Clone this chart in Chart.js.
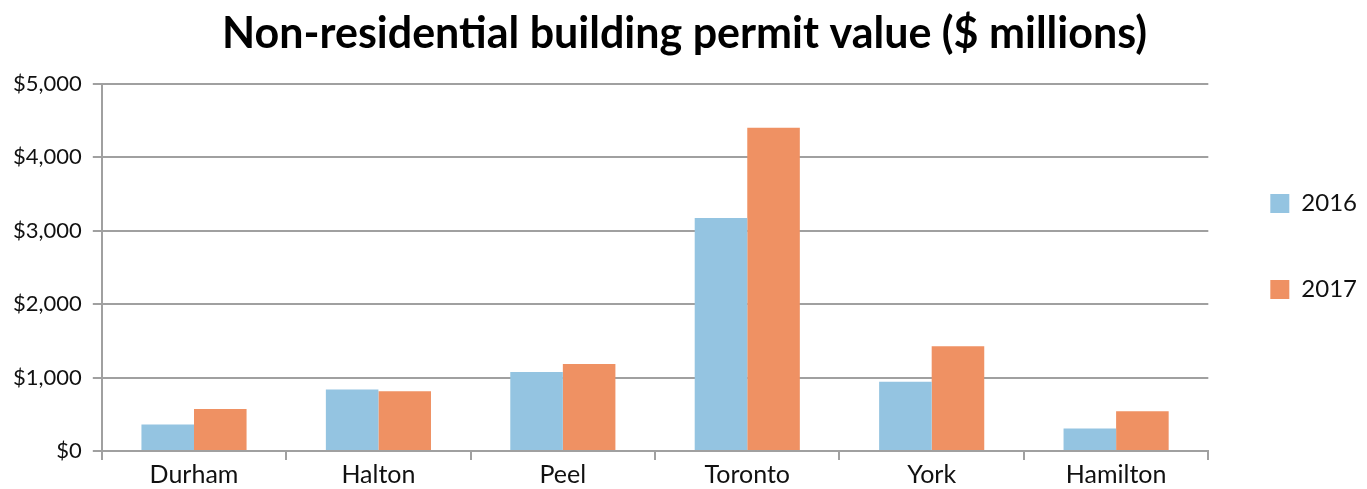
<!DOCTYPE html>
<html>
<head>
<meta charset="utf-8">
<script src="https://cdn.jsdelivr.net/npm/chart.js@4"></script>
<style>
  html, body { margin: 0; padding: 0; background: #fff; }
  #wrap { width: 1367px; height: 489px; }
</style>
</head>
<body>
<div id="wrap"><canvas id="chart"></canvas></div>
<script>
// Data
const regions = ['Durham', 'Halton', 'Peel', 'Toronto', 'York', 'Hamilton'];
const values2016 = [360, 836, 1076, 3172, 941, 306];
const values2017 = [573, 813, 1185, 4400, 1426, 541];
const yTicks = [0, 1000, 2000, 3000, 4000, 5000];

const gridGrey = '#a0a0a0';

const ctx = document.getElementById('chart').getContext('2d');
const chart = new Chart(ctx, {
  type: 'bar',
  data: {
    labels: regions,
    datasets: [
      {
        label: '2016',
        data: values2016,
        backgroundColor: '#94c4e1',
        categoryPercentage: 0.57,
        barPercentage: 1.0
      },
      {
        label: '2017',
        data: values2017,
        backgroundColor: '#ef9163',
        categoryPercentage: 0.57,
        barPercentage: 1.0
      }
    ]
  },
  options: {
    responsive: true,
    maintainAspectRatio: false,
    animation: false,
    layout: { padding: { left: 2, right: 0, top: 4, bottom: 0 } },
    scales: {
      y: {
        min: 0,
        max: 5000,
        afterBuildTicks: function (axis) {
          axis.ticks = yTicks.map(v => ({ value: v }));
        },
        border: { color: gridGrey, width: 2 },
        grid: { color: gridGrey, lineWidth: 2, tickLength: 9 },
        ticks: {
          color: '#111',
          font: { family: 'Lato', size: 22 },
          padding: 11,
          callback: v => '$' + v.toLocaleString('en-US')
        }
      },
      x: {
        border: { color: gridGrey, width: 2 },
        grid: { drawOnChartArea: false, color: gridGrey, lineWidth: 2, tickLength: 9 },
        ticks: {
          color: '#111',
          font: { family: 'Lato', size: 25, lineHeight: 1.0 },
          padding: 2
        }
      }
    },
    plugins: {
      title: {
        display: true,
        text: 'Non-residential building permit value ($ millions)',
        color: '#000',
        font: { family: 'Lato', size: 43, weight: 'bold' },
        padding: { top: 4, bottom: 24 }
      },
      legend: {
        position: 'right',
        labels: {
          color: '#111',
          font: { family: 'Lato', size: 24 },
          boxWidth: 19,
          boxHeight: 19,
          padding: 62
        }
      },
      tooltip: { enabled: false }
    }
  }
});
</script>
</body>
</html>
